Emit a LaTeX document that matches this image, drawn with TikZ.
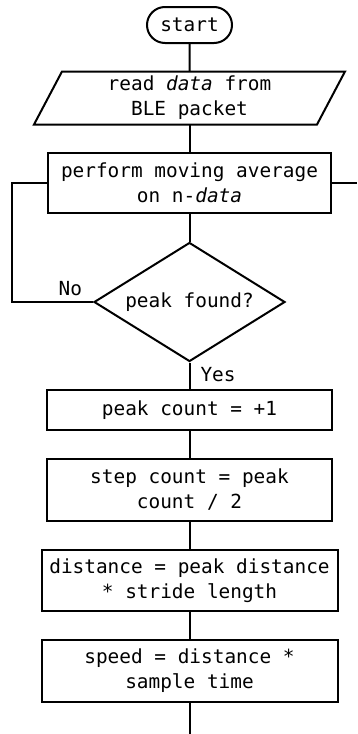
\documentclass[tikz,border=0pt]{standalone}
\usepackage{fontspec}
\setmainfont{DejaVu Sans Mono}
\usetikzlibrary{positioning, shapes.geometric, shapes.misc}

\begin{document}
\begin{tikzpicture}[
        x=1pt, y=1pt, % Координаты в пунктах
        node distance=26.5pt, % Расстояние между блоками
        line width=2pt,
        font=\fontsize{19.4}{25}\selectfont,
        term/.style={rounded rectangle, draw, minimum width=85pt, minimum height=36pt, inner sep=0pt},
        io/.style={rectangle, align=center, inner sep=0pt, outer sep=0pt,
                minimum width=283pt, minimum height=53pt}, % Ввод данных, рамка рисуется отдельно
        proc/.style={rectangle, draw, align=center, inner sep=0pt, minimum width=285pt}, % Стиль блоков
        cond/.style={diamond, aspect=1.6, draw, inner sep=0pt, minimum width=191pt, minimum height=119pt},
        lbl/.style={inner sep=3pt},
    ]
    \useasboundingbox (0,0) rectangle (357,-734);

    \node[term] (start) at (189.5,-25) {start};
    \node[io, below=27.5pt of start] (read) {read \textit{data} from\\BLE packet};
    \node[proc, minimum width=283pt, minimum height=60pt, below=27.5pt of read] (avg) {perform moving average\\on n-\textit{data}};
    \node[cond, below=27.5pt of avg] (chk) {peak found?};
    \node[proc, minimum height=40pt, below=of chk] (cnt) {peak count = +1};
    \node[proc, minimum height=62.7pt, below=of cnt] (steps) {step count = peak\\count / 2};
    \node[proc, minimum width=296pt, minimum height=61.7pt, below=of steps] (dist) {distance = peak distance\\* stride length};
    \node[proc, minimum width=296pt, minimum height=61.7pt, below=of dist] (speed) {speed = distance *\\sample time};

    % Параллелограмм вокруг блока ввода
    \draw ([xshift=14pt]read.north west) -- ([xshift=14pt]read.north east)
        -- ([xshift=-14pt]read.south east) -- ([xshift=-14pt]read.south west) -- cycle;

    \coordinate (lft) at (12,0); % Линия возврата слева
    \coordinate (rgt) at (357,0);
    \coordinate (bot) at (189.5,-734);

    \draw (start) -- (read);
    \draw (read) -- (avg);
    \draw (avg) -- (chk);
    \draw (chk) -- node[lbl, right=7pt, pos=0.45] {Yes} (cnt);
    \draw (chk.west) -- node[lbl, above=2.5pt, pos=0.28] {No} (chk.west -| lft) |- (avg.west);
    \draw (avg.east) -- (avg.east -| rgt);
    \draw (cnt) -- (steps);
    \draw (steps) -- (dist);
    \draw (dist) -- (speed);
    \draw (speed) -- (bot);
\end{tikzpicture}
\end{document}
